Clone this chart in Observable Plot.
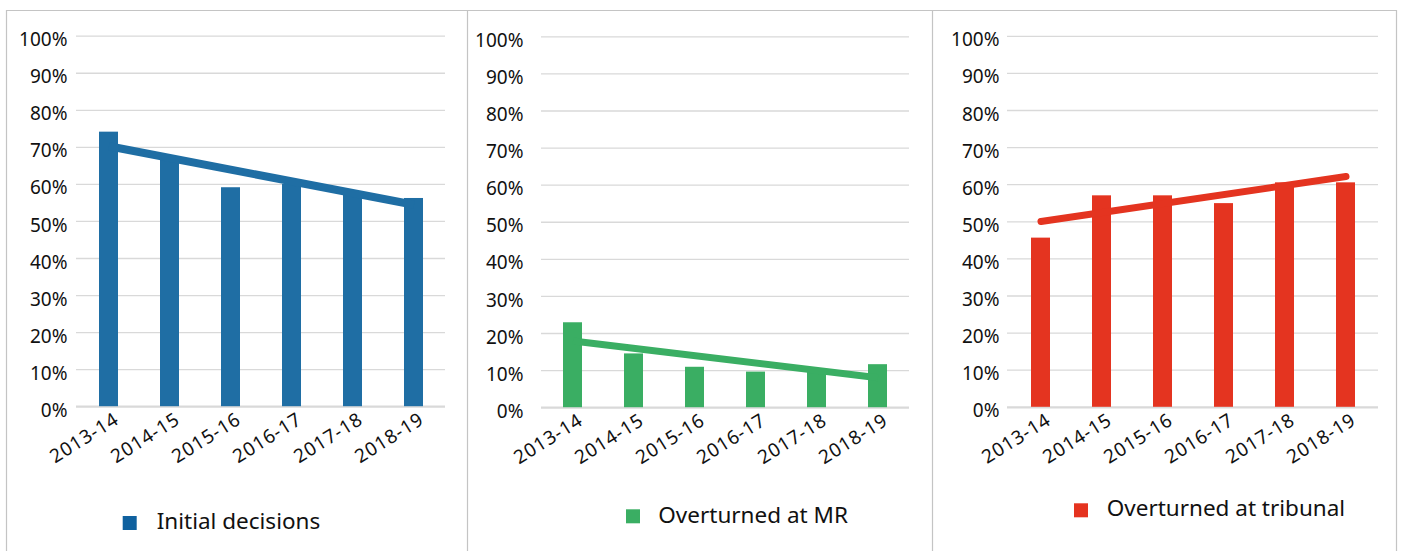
<!DOCTYPE html>
<html>
<head>
<meta charset="utf-8">
<script src="https://cdn.jsdelivr.net/npm/d3@7"></script>
<script src="https://cdn.jsdelivr.net/npm/@observablehq/plot@0.6"></script>
<style>
  html, body { margin: 0; padding: 0; background: #fff; }
  #wrap { position: relative; width: 1401px; height: 551px; overflow: hidden; font-family: "Noto Sans", sans-serif; }
  #wrap svg.panel { position: absolute; top: 0; }
  #wrap svg.panel g[aria-label="x-axis tick label"] text { letter-spacing: 0.8px; }
  #deco { position: absolute; left: 0; top: 0; pointer-events: none; }
</style>
</head>
<body>
<div id="wrap"></div>
<script>
// ---- data ----
const years = ["2013-14", "2014-15", "2015-16", "2016-17", "2017-18", "2018-19"];
const initialDecisions = [74.1, 67.0, 59.1, 60.0, 57.5, 56.2];
const overturnedMR = [22.9, 14.5, 10.9, 9.6, 10.3, 11.6];
const overturnedTribunal = [45.6, 57.0, 57.0, 54.9, 60.5, 60.5];
// trend line end points (first and last year)
const trendInitial = [70.3, 54.5];
const trendMR = [18.0, 8.1];
const trendTribunal = [50.1, 62.2];
const yTicks = [0, 10, 20, 30, 40, 50, 60, 70, 80, 90, 100];
const seriesNames = ["Initial decisions", "Overturned at MR", "Overturned at tribunal"];
const seriesColors = ["#1f6ea4", "#3aae63", "#e43420"];
const legendColors = ["#0f619f", "#3aae63", "#e5331f"];

const panels = [
  {values: initialDecisions, trend: trendInitial, left: 7, right: 466, x0: 76, x1: 445, yTop: 35.7, yBot: 406.2, pad: 9, cap: "butt", sw: 8},
  {values: overturnedMR, trend: trendMR, left: 468, right: 931, x0: 541, x1: 909, yTop: 36.3, yBot: 407.2, pad: 18, cap: "butt", sw: 7},
  {values: overturnedTribunal, trend: trendTribunal, left: 933, right: 1395, x0: 1007, x1: 1378, yTop: 35.8, yBot: 406.8, pad: 8, cap: "round", sw: 7}
];

const wrap = document.getElementById("wrap");

panels.forEach((p, i) => {
  const data = years.map((y, j) => ({year: y, value: p.values[j]}));
  const trend = [{year: years[0], value: p.trend[0]}, {year: years[years.length - 1], value: p.trend[1]}];
  const W = p.right - p.left;
  const chart = Plot.plot({
    width: W,
    height: 551,
    marginLeft: p.x0 - p.left,
    marginRight: p.right - p.x1,
    marginTop: p.yTop,
    marginBottom: 551 - p.yBot,
    style: {fontFamily: "Noto Sans", color: "#111", background: "transparent"},
    x: {domain: years, paddingInner: 0.69, paddingOuter: 0.345, label: null},
    y: {domain: [0, 100], label: null},
    marks: [
      Plot.gridY(yTicks.slice(1), {stroke: "#d9d9d9", strokeOpacity: 1, strokeWidth: 1.3}),
      Plot.ruleY([0], {stroke: "#d9d9d9", strokeWidth: 2.2}),
      Plot.barY(data, {x: "year", y: "value", fill: seriesColors[i]}),
      Plot.line(trend, {x: "year", y: "value", stroke: seriesColors[i], strokeWidth: p.sw, strokeLinecap: p.cap}),
      Plot.axisY(yTicks, {tickSize: 0, tickPadding: p.pad, fontSize: 19, dy: 4, tickFormat: d => d + "%", label: null}),
      Plot.axisX({tickSize: 0, tickPadding: 11, tickRotate: -32, fontSize: 19, dx: 8, label: null})
    ]
  });
  chart.classList.add("panel");
  chart.style.left = p.left + "px";
  wrap.appendChild(chart);
});

// ---- decorations: panel borders and legends ----
const deco = d3.select(wrap).append("svg")
  .attr("id", "deco").attr("width", 1401).attr("height", 551);
const borderColor = "#c4c4c4";
deco.append("path")
  .attr("d", "M6.5,560V10.5H1396.5V560 M467.5,10.5V560 M932.5,10.5V560")
  .attr("fill", "none").attr("stroke", borderColor).attr("stroke-width", 1.2);

const legendPos = [
  {sx: 122.7, sy: 516, tx: 156.7, ty: 529.3},
  {sx: 626, sy: 509.3, tx: 658.3, ty: 523.3},
  {sx: 1074, sy: 503.3, tx: 1106.7, ty: 515.7}
];
legendPos.forEach((l, i) => {
  deco.append("rect").attr("x", l.sx).attr("y", l.sy).attr("width", 14).attr("height", 14).attr("fill", legendColors[i]);
  deco.append("text").attr("x", l.tx).attr("y", l.ty)
    .attr("font-family", "Noto Sans").attr("font-size", 22.5).attr("fill", "#111")
    .text(seriesNames[i]);
});
</script>
</body>
</html>
